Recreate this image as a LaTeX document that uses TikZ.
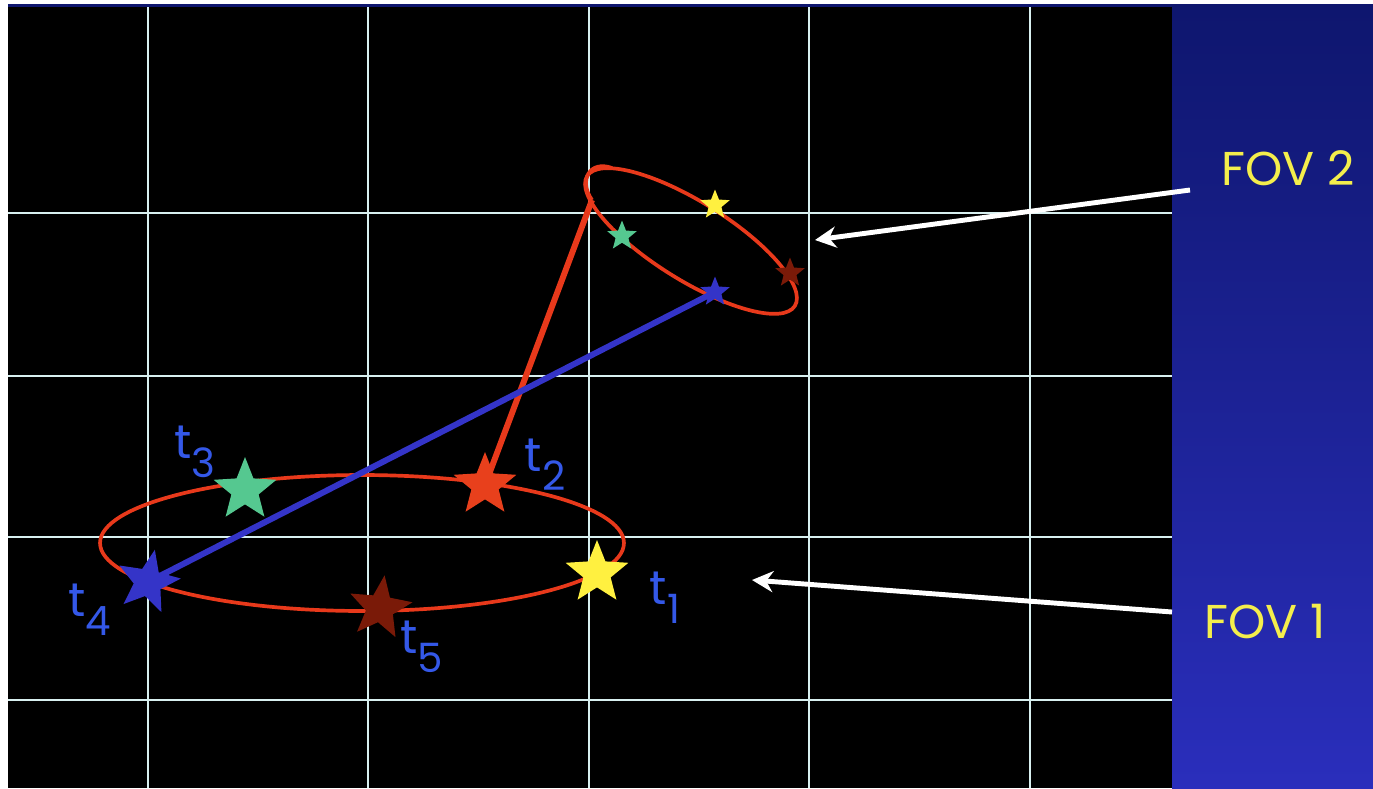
\documentclass[tikz,border=0pt]{standalone}
\usepackage{fontspec}
\setmainfont{Poppins}
\usepackage{xcolor}
\usetikzlibrary{arrows.meta, positioning, shapes.geometric, backgrounds}
\definecolor{orbitred}{HTML}{E8391B}
\definecolor{pathblue}{HTML}{3434C8}
\definecolor{labblue}{HTML}{3458E8}
\definecolor{gridline}{HTML}{D8F0F0}
\definecolor{starred}{HTML}{E8401C}
\definecolor{stargreen}{HTML}{55C890}
\definecolor{staryellow}{HTML}{FFF040}
\definecolor{stardark}{HTML}{7A1A08}
\definecolor{fovyellow}{HTML}{F4EE4C}
\definecolor{panetop}{HTML}{0E166E}
\definecolor{panebot}{HTML}{2A2EBC}
\newcommand{\tsub}[1]{t\raisebox{-0.4em}{\fontsize{23}{23}\selectfont #1}}

\begin{document}
\begin{tikzpicture}[x=0.02cm, y=-0.02cm,
  bigstar/.style={star, star points=5, star point ratio=2.3, minimum size=1.32cm, inner sep=0pt},
  smallstar/.style={star, star points=5, star point ratio=2.3, minimum size=0.62cm, inner sep=0pt},
  tlabel/.style={text=labblue, font=\fontsize{27}{27}\selectfont, inner sep=0pt},
  fovlabel/.style={text=fovyellow, font=\fontsize{27}{27}\selectfont, inner sep=0pt},
  pointer/.style={white, line width=2.8pt, -{Stealth[length=12pt, width=12pt]}},
  orbit/.style={orbitred, line width=2.1pt}]
\useasboundingbox (0,0) rectangle (1373,788);

% stars of the first field
\node[bigstar, fill=staryellow] (t1) at (597,573) {};
\node[bigstar, fill=starred] (t2) at (485,485) {};
\node[bigstar, fill=stargreen] (t3) at (245,490) {};
\node[bigstar, fill=pathblue, rotate=-12] (t4) at (148,582) {};
\node[bigstar, fill=stardark, rotate=-8] (t5) at (380,608) {};
% same stars in the second field
\node[smallstar, fill=staryellow] (s1) at (715,205) {};
\node[smallstar, fill=stargreen] (s3) at (622,236) {};
\node[smallstar, fill=pathblue] (s4) at (715,292) {};
\node[smallstar, fill=stardark] (s5) at (790,273) {};
\coordinate (apex) at (592,200);

\node[tlabel] (l1) at (665,598) {\tsub{1}};
\node[tlabel] (l2) at (545,465) {\tsub{2}};
\node[tlabel] (l3) at (195,452) {\tsub{3}};
\node[tlabel] (l4) at (90,610) {\tsub{4}};
\node[tlabel] (l5) at (422,647) {\tsub{5}};

\node[fovlabel] (fov2) at (1288,168) {FOV 2};
\node[fovlabel] (fov1) at (1265,622) {FOV 1};
\coordinate (tail2) at (1190,190);
\coordinate (tip2) at (815,240);
\coordinate (tail1) at (1172,612);
\coordinate (tip1) at (752,580);
\draw[pointer] (tail2) -- (tip2);
\draw[pointer] (tail1) -- (tip1);

\begin{scope}[on background layer]
\fill[white] (0,0) rectangle (1373,788);
\fill[black] (8,7) rectangle (1172,788);
\fill[panetop] (8,4) rectangle (1373,7);
\shade[top color=panetop, bottom color=panebot] (1172,4) rectangle (1373,788);
\foreach \gx in {148,368,589,809,1030}
  \draw[gridline, line width=1.1pt] (\gx,7) -- (\gx,788);
\foreach \gy in {213,376,537,700}
  \draw[gridline, line width=1.1pt] (8,\gy) -- (1172,\gy);
\draw[orbit] (362,543) ellipse [x radius=5.24cm, y radius=1.36cm];
\draw[orbit, rotate around={-32:(691,241)}] (691,241) ellipse [x radius=2.45cm, y radius=0.78cm];
\draw[orbit] (apex) .. controls (578,180) and (590,160) .. (612,168);
\draw[orbitred, line width=3.4pt] (t2.center) -- (apex);
\draw[pathblue, line width=3.4pt] (t4.center) -- (s4.center);
\end{scope}
\end{tikzpicture}
\end{document}
